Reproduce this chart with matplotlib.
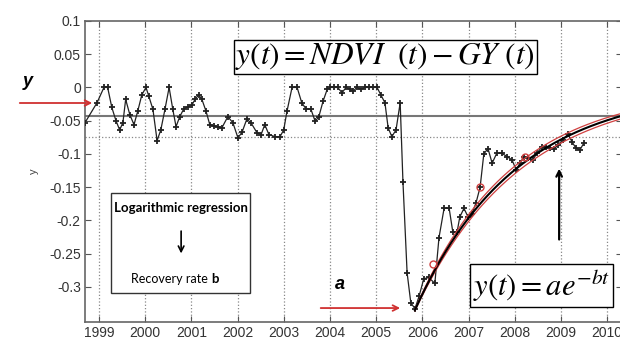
import numpy as np
import matplotlib
matplotlib.use('Agg')
import matplotlib.pyplot as plt
from matplotlib.patches import Rectangle

plt.rcParams['axes.unicode_minus'] = False
plt.rcParams['mathtext.fontset'] = 'stix'
plt.rcParams['font.family'] = ['Liberation Sans', 'DejaVu Sans']

# ---- data (y = NDVI - GY, monthly-ish samples) ----
t_obs = [1998.70, 1998.96, 1999.11, 1999.19, 1999.28, 1999.37, 1999.45, 1999.52,
         1999.58, 1999.67, 1999.76, 1999.84, 1999.93, 2000.02, 2000.08, 2000.17,
         2000.26, 2000.34, 2000.43, 2000.52, 2000.60, 2000.67, 2000.75, 2000.84,
         2000.93, 2001.01, 2001.08, 2001.16, 2001.23, 2001.32, 2001.40, 2001.49,
         2001.58, 2001.66, 2001.79, 2001.90, 2002.01, 2002.10, 2002.20, 2002.29,
         2002.42, 2002.51, 2002.59, 2002.68, 2002.81, 2002.92, 2003.00, 2003.07,
         2003.18, 2003.29, 2003.39, 2003.48, 2003.59, 2003.68, 2003.76, 2003.85,
         2003.94, 2004.00, 2004.09, 2004.17, 2004.26, 2004.35, 2004.43, 2004.50,
         2004.58, 2004.67, 2004.76, 2004.84, 2004.93, 2005.02, 2005.10, 2005.19,
         2005.26, 2005.34, 2005.43, 2005.52, 2005.58, 2005.67, 2005.75, 2005.84,
         2005.93, 2006.03, 2006.14, 2006.27, 2006.36, 2006.47, 2006.58, 2006.66,
         2006.75, 2006.81, 2006.90, 2006.99, 2007.07, 2007.16, 2007.25, 2007.33,
         2007.42, 2007.51, 2007.61, 2007.72, 2007.83, 2007.94, 2008.03, 2008.11,
         2008.20, 2008.29, 2008.39, 2008.48, 2008.59, 2008.68, 2008.76, 2008.85,
         2008.94, 2009.04, 2009.15, 2009.24, 2009.32, 2009.41, 2009.50]
y_obs = [-0.053, -0.023, 0.000, 0.000, -0.030, -0.050, -0.064, -0.053,
         -0.018, -0.041, -0.056, -0.036, -0.011, 0.000, -0.013, -0.033,
         -0.080, -0.064, -0.033, 0.000, -0.033, -0.059, -0.044, -0.032,
         -0.029, -0.027, -0.018, -0.011, -0.018, -0.036, -0.056, -0.058,
         -0.059, -0.061, -0.044, -0.053, -0.076, -0.067, -0.048, -0.053,
         -0.068, -0.071, -0.056, -0.071, -0.074, -0.074, -0.064, -0.036,
         0.000, 0.000, -0.023, -0.032, -0.033, -0.051, -0.044, -0.021,
         -0.003, 0.000, 0.000, 0.000, -0.008, 0.000, -0.003, -0.006,
         0.000, -0.003, 0.000, 0.000, 0.000, 0.000, -0.011, -0.023,
         -0.061, -0.074, -0.064, -0.023, -0.142, -0.279, -0.324, -0.333,
         -0.314, -0.288, -0.286, -0.295, -0.226, -0.182, -0.182, -0.218,
         -0.218, -0.195, -0.182, -0.195, -0.190, -0.174, -0.150, -0.100,
         -0.092, -0.114, -0.099, -0.099, -0.104, -0.109, -0.124, -0.114,
         -0.104, -0.106, -0.109, -0.099, -0.089, -0.089, -0.091, -0.093,
         -0.086, -0.079, -0.070, -0.082, -0.091, -0.094, -0.083]

# exponential recovery fit y(t) = a e^{-b (t - t0)} and its bounds
t0, a_fit, b_fit = 2005.84, -0.335, 0.46
a_up, b_up = -0.334, 0.48
a_lo, b_lo = -0.336, 0.44
t_circ = [2006.23, 2007.25, 2008.22]
y_circ = [-0.265, -0.150, -0.104]

y_mean = -0.043
y_ref = -0.075
years = list(range(1999, 2011))
yticks = [0.1, 0.05, 0, -0.05, -0.1, -0.15, -0.2, -0.25, -0.3]
ytick_labels = ['0.1', '0.05', '0', '-0.05', '-0.1', '-0.15', '-0.2', '-0.25', '-0.3']

fig = plt.figure(figsize=(6.2, 3.43), dpi=100)
fig.patch.set_facecolor('white')
ax = fig.add_axes([85/620, 1-322/343, (622-85)/620, (322-21)/343])
ax.set_xlim(1998.70, 2010.32)
ax.set_ylim(-0.353, 0.1)

ax.set_xticks(years)
ax.set_xticklabels([str(y) for y in years])
ax.set_yticks(yticks)
ax.set_yticklabels(ytick_labels)
ax.tick_params(direction='in', top=True, right=True, length=4, width=0.8,
               labelsize=10, labelcolor='#333333', color='#555555', pad=3)
for s in ax.spines.values():
    s.set_color('#666666')
    s.set_linewidth(1.2)
ax.grid(axis='x', linestyle=':', color='#888888', lw=0.9)
ax.axhline(y_ref, linestyle=':', color='#888888', lw=0.9)
ax.axhline(y_mean, color='#777777', lw=1.5)
ax.set_ylabel('y', fontsize=8, color='#444444', labelpad=7)

ax.plot(t_obs, y_obs, color='#222222', lw=0.9, marker='+', ms=5, mew=1.3, zorder=4)

tf = np.linspace(t0, 2010.32, 200)
ax.plot(tf, a_up*np.exp(-b_up*(tf-t0)), color='#d04040', lw=0.9, zorder=5)
ax.plot(tf, a_lo*np.exp(-b_lo*(tf-t0)), color='#d04040', lw=0.9, zorder=5)
ax.plot(tf, a_fit*np.exp(-b_fit*(tf-t0)), color='black', lw=1.5, zorder=6)
ax.plot(t_circ, y_circ, 'o', mfc='none', mec='#d04040', ms=5, mew=1, zorder=7)

# equation boxes
ax.text(2005.2, 0.046, r'$y(t) = NDVI\ \ (t) - GY\ (t)$', ha='center', va='center',
        fontsize=22.5, zorder=8,
        bbox=dict(boxstyle='square,pad=0.06', fc='white', ec='black', lw=1))
ax.text(2008.58, -0.298, r'$y(t) = ae^{-bt}$', ha='center', va='center',
        fontsize=22, zorder=8,
        bbox=dict(boxstyle='square,pad=0.1', fc='white', ec='black', lw=1))

# regression note box
note_font = ['Lato', 'DejaVu Sans']
ax.add_patch(Rectangle((1999.26, -0.309), 3.01, 0.150, fc='white', ec='#333333',
                       lw=1, zorder=8))
ax.text(2000.78, -0.182, 'Logarithmic regression', ha='center', va='center',
        fontsize=9.5, fontweight='bold', family=note_font, zorder=9)
ax.annotate('', xy=(2000.78, -0.254), xytext=(2000.78, -0.212),
            arrowprops=dict(arrowstyle='->', color='black', lw=1.2), zorder=9)
ax.text(2001.44, -0.288, 'Recovery rate ', ha='right', va='center',
        fontsize=9, family=note_font, zorder=9)
ax.text(2001.44, -0.288, 'b', ha='left', va='center',
        fontsize=9.5, fontweight='bold', family=note_font, zorder=9)

# a arrow and label
ax.text(2004.22, -0.296, 'a', ha='center', va='center', fontsize=13,
        fontweight='bold', style='italic', zorder=9)
ax.annotate('', xy=(2005.58, -0.332), xytext=(2003.74, -0.332),
            arrowprops=dict(arrowstyle='->', color='#d03030', lw=1.3), zorder=9)

# up arrow
ax.annotate('', xy=(2008.96, -0.118), xytext=(2008.96, -0.233),
            arrowprops=dict(arrowstyle='->', color='black', lw=1.6), zorder=9)

# y arrow and label outside the axes
fig.text(28/620, 1-82/343, 'y', ha='center', va='center', fontsize=13,
         fontweight='bold', style='italic')
ax.annotate('', xy=(95/620, 1-103/343), xytext=(17/620, 1-103/343),
            xycoords='figure fraction', textcoords='figure fraction',
            arrowprops=dict(arrowstyle='->', color='#d03030', lw=1.3),
            annotation_clip=False, zorder=9)

fig.savefig('out.png', dpi=100, facecolor='white')
